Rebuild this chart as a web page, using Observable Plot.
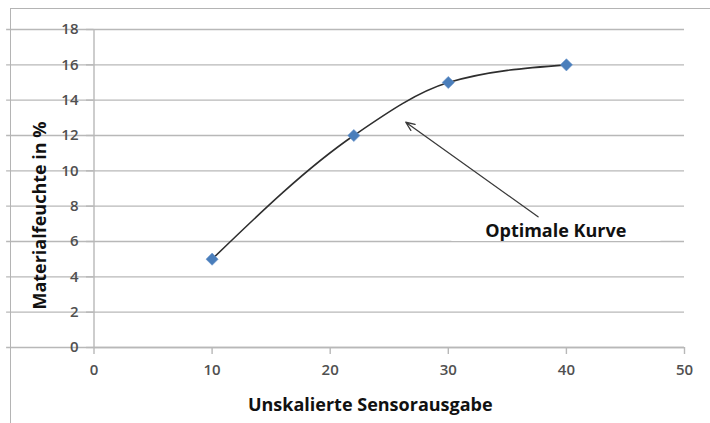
<!DOCTYPE html>
<html>
<head>
<meta charset="utf-8">
<script src="https://cdn.jsdelivr.net/npm/d3@7"></script>
<script src="https://cdn.jsdelivr.net/npm/@observablehq/plot@0.6"></script>
<style>
  html, body { margin: 0; padding: 0; background: #fff; }
  #wrap { position: relative; width: 710px; height: 423px; overflow: hidden; }
  #frame { position: absolute; left: 10px; top: 8px; right: -2px; bottom: -2px;
           border-left: 1.5px solid #b4b4b4; border-top: 1.5px solid #b4b4b4; pointer-events: none; }
</style>
</head>
<body>
<div id="wrap"><div id="frame"></div></div>
<script>
// Measured points: raw sensor output vs. material moisture
const sensorOutput = [10, 22, 30, 40];
const moisture = [5, 12, 15, 16];

// Axis ticks
const xTicks = [0, 10, 20, 30, 40, 50];
const yTicks = [0, 2, 4, 6, 8, 10, 12, 14, 16, 18];

// Callout: arrow from the label towards the curve
const calloutText = ["Optimale Kurve"];
const calloutLabelPos = [39.1, 6.6];   // x, y of label
const calloutBox = [30.3, 48.0, 6.0, 7.45]; // x1, x2, y1, y2 of label background
const arrowFrom = [37.6, 7.4];
const arrowTo = [26.4, 12.75];

const points = sensorOutput.map((x, i) => ({x, y: moisture[i]}));

const font = "'Open Sans', sans-serif";
const gridColor = "#b8b8b8";
const tickLabelColor = "#505050";

const chart = Plot.plot({
  width: 710,
  height: 423,
  marginLeft: 93.5,
  marginRight: 26,
  marginTop: 29,
  marginBottom: 76,
  style: {fontFamily: font, background: "transparent"},
  x: {domain: [0, 50]},
  y: {domain: [0, 18]},
  marks: [
    Plot.gridY(yTicks, {stroke: gridColor, strokeOpacity: 1, strokeWidth: 1.4, x1: -7.4, x2: 50}),
    Plot.ruleY([0], {stroke: gridColor, strokeWidth: 1.4, x1: 0, x2: 50}),
    Plot.axisY(yTicks, {
      tickSize: 7.5, tickPadding: 8, stroke: gridColor, strokeWidth: 1.4,
      fill: tickLabelColor, label: null
    }),
    Plot.axisX(xTicks, {
      tickSize: 7, tickPadding: 10, stroke: gridColor, strokeWidth: 1.4,
      fill: tickLabelColor, label: null
    }),
    Plot.ruleX([0], {stroke: gridColor, strokeWidth: 1.4, y1: 0, y2: 18}),
    // label background hiding the gridline behind the callout text
    Plot.rect([calloutBox], {x1: d => d[0], x2: d => d[1], y1: d => d[2], y2: d => d[3], fill: "white"}),
    Plot.text(calloutText, {
      x: calloutLabelPos[0], y: calloutLabelPos[1], text: d => d,
      fontSize: 18, fontWeight: "bold", fill: "#111"
    }),
    Plot.arrow([{x1: arrowFrom[0], y1: arrowFrom[1], x2: arrowTo[0], y2: arrowTo[1]}], {
      x1: "x1", y1: "y1", x2: "x2", y2: "y2",
      stroke: "#3a3a3a", strokeWidth: 1.3, headLength: 11, headAngle: 45
    }),
    Plot.line(points, {x: "x", y: "y", curve: "monotone-x", stroke: "#2e2e2e", strokeWidth: 1.6}),
    Plot.dot(points, {x: "x", y: "y", symbol: "diamond2", r: 5.5, fill: "#4a7ebb", stroke: "#6d97cc", strokeWidth: 0.6}),
    // axis titles
    Plot.text(["Materialfeuchte in %"], {
      frameAnchor: "left", textAnchor: "middle", text: d => d, rotate: -90, dx: -54, dy: 27,
      fontSize: 18, fontWeight: "bold", fill: "#111"
    }),
    Plot.text(["Unskalierte Sensorausgabe"], {
      frameAnchor: "bottom", textAnchor: "middle", text: d => d, dx: -19, dy: 63,
      fontSize: 18, fontWeight: "bold", fill: "#111"
    })
  ]
});

// tick labels: larger, semi-bold numerals
d3.select(chart).selectAll('g[aria-label$="axis tick label"] text')
  .style("font-size", "15px")
  .style("font-weight", "600");

document.getElementById("wrap").prepend(chart);
</script>
</body>
</html>
